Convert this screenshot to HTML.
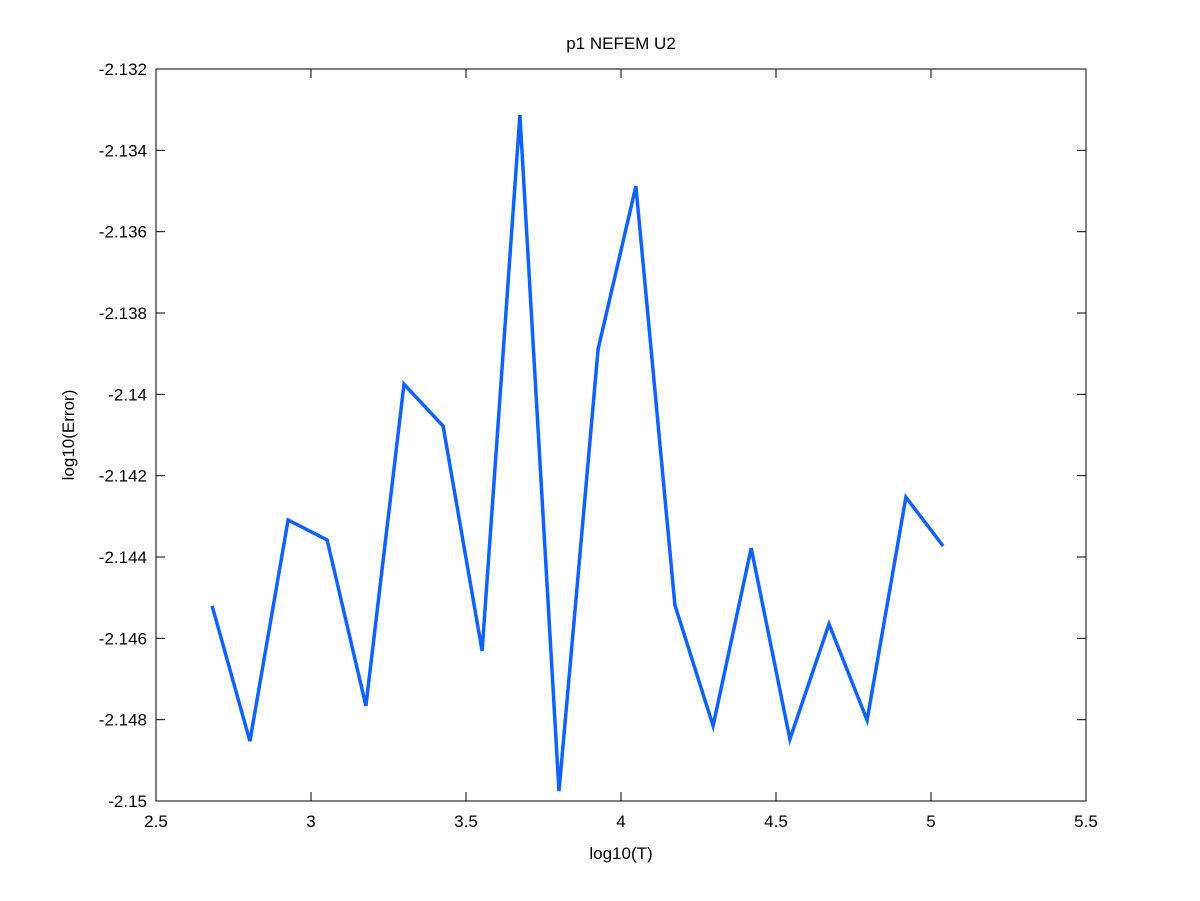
<!DOCTYPE html>
<html>
<head>
<meta charset="utf-8">
<style>
  html,body{margin:0;padding:0;background:#fff;}
  svg{display:block;font-family:"Liberation Sans",sans-serif;}
</style>
</head>
<body>
<svg id="chart" width="1200" height="901" viewBox="0 0 1200 901"></svg>
<script>
const xValues = [2.681,2.803,2.926,3.052,3.177,3.300,3.426,3.552,3.674,3.800,3.926,4.048,4.174,4.297,4.420,4.545,4.671,4.794,4.919,5.039];
const yValues = [-2.14520,-2.14853,-2.14309,-2.14358,-2.14766,-2.13975,-2.14078,-2.14631,-2.13313,-2.14976,-2.13889,-2.13488,-2.14518,-2.14815,-2.14378,-2.14848,-2.14565,-2.14801,-2.14253,-2.14373];
const xTicks = [2.5,3,3.5,4,4.5,5,5.5];
const xTickLabels = ["2.5","3","3.5","4","4.5","5","5.5"];
const yTicks = [-2.132,-2.134,-2.136,-2.138,-2.14,-2.142,-2.144,-2.146,-2.148,-2.15];
const yTickLabels = ["-2.132","-2.134","-2.136","-2.138","-2.14","-2.142","-2.144","-2.146","-2.148","-2.15"];

const L=156,R=1086,T=69,B=801;
const xMin=2.5,xMax=5.5,yMin=-2.15,yMax=-2.132;
const sx=v=>L+(v-xMin)/(xMax-xMin)*(R-L);
const sy=v=>B-(v-yMin)/(yMax-yMin)*(B-T);
const NS="http://www.w3.org/2000/svg";
const svg=document.getElementById('chart');
function mk(tag,attrs){const e=document.createElementNS(NS,tag);for(const k in attrs)e.setAttribute(k,attrs[k]);svg.appendChild(e);return e;}

const frame=mk('rect',{x:L,y:T,width:R-L,height:B-T,fill:'none',stroke:'#000','stroke-width':1});



xTicks.forEach((v,i)=>{
  const x=sx(v);
  const t1=mk('line',{x1:x,y1:B,x2:x,y2:B-9,stroke:'#000'});
  
  
  const t2=mk('line',{x1:x,y1:T,x2:x,y2:T+9,stroke:'#000'});
  
  
  const lb=mk('text',{x:x,y:B+26,'text-anchor':'middle','font-size':17,fill:'#000'});
  lb.textContent=xTickLabels[i];
  
  
});
yTicks.forEach((v,i)=>{
  const y=sy(v);
  const t1=mk('line',{x1:L,y1:y,x2:L+9,y2:y,stroke:'#000'});
  
  
  const t2=mk('line',{x1:R,y1:y,x2:R-9,y2:y,stroke:'#000'});
  
  
  const lb=mk('text',{x:L-9,y:y+6,'text-anchor':'end','font-size':17,fill:'#000'});
  lb.textContent=yTickLabels[i];
  
  
});

const pts=xValues.map((v,i)=>sx(v).toFixed(1)+','+sy(yValues[i]).toFixed(1)).join(' ');
const line=mk('polyline',{points:pts,fill:'none',stroke:'#0f62fe','stroke-width':3.5,'stroke-linejoin':'miter'});



const title=mk('text',{x:(L+R)/2,y:49,'text-anchor':'middle','font-size':17,fill:'#000'});
title.textContent='p1 NEFEM U2';



const xt=mk('text',{x:(L+R)/2,y:859,'text-anchor':'middle','font-size':17,fill:'#000'});
xt.textContent='log10(T)';



const yt=mk('text',{x:0,y:0,'text-anchor':'middle','font-size':17,fill:'#000',transform:'translate(74,'+((T+B)/2)+') rotate(-90)'});
yt.textContent='log10(Error)';


</script>
</body>
</html>
